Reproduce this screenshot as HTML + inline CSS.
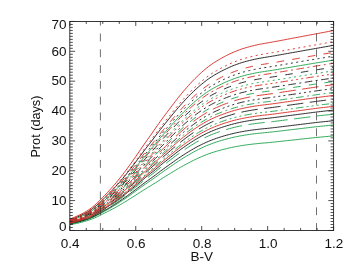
<!DOCTYPE html>
<html><head><meta charset="utf-8"><title>Prot vs B-V</title>
<style>
html,body{margin:0;padding:0;background:#fff;}
body{width:354px;height:275px;overflow:hidden;font-family:"Liberation Sans",sans-serif;}
svg{display:block;will-change:transform;}
text{font-family:"Liberation Sans",sans-serif;font-size:13.5px;fill:#111;}
</style></head><body>
<svg width="354" height="275" viewBox="0 0 354 275">
<rect width="354" height="275" fill="#fff"/>
<defs><clipPath id="c"><rect x="69.8" y="21.45" width="263.80" height="209.00"/></clipPath></defs>
<g clip-path="url(#c)" fill="none" stroke-width="0.95" stroke-linejoin="round">
<path d="M69.80,219.90 L71.45,219.28 L73.10,218.65 L74.75,218.02 L76.40,217.36 L78.04,216.68 L79.69,215.97 L81.34,215.22 L82.99,214.43 L84.64,213.58 L86.29,212.68 L87.94,211.71 L89.58,210.68 L91.23,209.57 L92.88,208.38 L94.53,207.10 L96.18,205.73 L97.83,204.28 L99.48,202.78 L101.13,201.23 L102.77,199.66 L104.42,198.07 L106.07,196.47 L107.72,194.85 L109.37,193.20 L111.02,191.52 L112.67,189.81 L114.32,188.05 L115.97,186.26 L117.61,184.43 L119.26,182.56 L120.91,180.64 L122.56,178.69 L124.21,176.70 L125.86,174.68 L127.51,172.62 L129.15,170.53 L130.80,168.42 L132.45,166.28 L134.10,164.11 L135.75,161.93 L137.40,159.73 L139.05,157.52 L140.70,155.32 L142.34,153.12 L143.99,150.94 L145.64,148.78 L147.29,146.63 L148.94,144.49 L150.59,142.36 L152.24,140.21 L153.89,138.05 L155.53,135.89 L157.18,133.71 L158.83,131.55 L160.48,129.42 L162.13,127.33 L163.78,125.27 L165.43,123.23 L167.08,121.20 L168.72,119.18 L170.37,117.16 L172.02,115.15 L173.67,113.14 L175.32,111.15 L176.97,109.18 L178.62,107.25 L180.27,105.35 L181.91,103.49 L183.56,101.66 L185.21,99.87 L186.86,98.12 L188.51,96.40 L190.16,94.73 L191.81,93.09 L193.46,91.50 L195.10,89.95 L196.75,88.43 L198.40,86.96 L200.05,85.53 L201.70,84.15 L203.35,82.80 L205.00,81.51 L206.65,80.26 L208.29,79.06 L209.94,77.92 L211.59,76.83 L213.24,75.79 L214.89,74.79 L216.54,73.84 L218.19,72.91 L219.84,72.02 L221.48,71.15 L223.13,70.31 L224.78,69.49 L226.43,68.70 L228.08,67.93 L229.73,67.18 L231.38,66.47 L233.03,65.78 L234.67,65.13 L236.32,64.50 L237.97,63.91 L239.62,63.34 L241.27,62.81 L242.92,62.30 L244.57,61.81 L246.22,61.35 L247.87,60.92 L249.51,60.50 L251.16,60.10 L252.81,59.71 L254.46,59.34 L256.11,58.99 L257.76,58.66 L259.41,58.34 L261.05,58.04 L262.70,57.76 L264.35,57.48 L266.00,57.22 L267.65,56.95 L269.30,56.68 L270.95,56.41 L272.60,56.13 L274.25,55.86 L275.89,55.57 L277.54,55.28 L279.19,54.99 L280.84,54.69 L282.49,54.39 L284.14,54.10 L285.79,53.80 L287.44,53.50 L289.08,53.21 L290.73,52.91 L292.38,52.62 L294.03,52.33 L295.68,52.04 L297.33,51.75 L298.98,51.45 L300.62,51.16 L302.27,50.87 L303.92,50.57 L305.57,50.27 L307.22,49.98 L308.87,49.68 L310.52,49.39 L312.17,49.10 L313.81,48.81 L315.46,48.52 L317.11,48.22 L318.76,47.94 L320.41,47.65 L322.06,47.36 L323.71,47.07 L325.36,46.78 L327.00,46.49 L328.65,46.20 L330.30,45.91 L331.95,45.62 L333.60,45.34" stroke="#222222"/>
<path d="M69.80,220.69 L71.45,220.11 L73.10,219.54 L74.75,218.95 L76.40,218.34 L78.04,217.71 L79.69,217.05 L81.34,216.36 L82.99,215.62 L84.64,214.84 L86.29,214.01 L87.94,213.11 L89.58,212.16 L91.23,211.13 L92.88,210.03 L94.53,208.84 L96.18,207.58 L97.83,206.24 L99.48,204.85 L101.13,203.41 L102.77,201.96 L104.42,200.50 L106.07,199.02 L107.72,197.53 L109.37,196.02 L111.02,194.47 L112.67,192.89 L114.32,191.28 L115.97,189.63 L117.61,187.95 L119.26,186.23 L120.91,184.47 L122.56,182.68 L124.21,180.85 L125.86,179.00 L127.51,177.11 L129.15,175.20 L130.80,173.26 L132.45,171.30 L134.10,169.31 L135.75,167.32 L137.40,165.31 L139.05,163.29 L140.70,161.28 L142.34,159.27 L143.99,157.28 L145.64,155.31 L147.29,153.36 L148.94,151.41 L150.59,149.46 L152.24,147.51 L153.89,145.55 L155.53,143.59 L157.18,141.59 L158.83,139.60 L160.48,137.64 L162.13,135.72 L163.78,133.83 L165.43,131.95 L167.08,130.09 L168.72,128.24 L170.37,126.38 L172.02,124.53 L173.67,122.68 L175.32,120.86 L176.97,119.05 L178.62,117.28 L180.27,115.53 L181.91,113.82 L183.56,112.14 L185.21,110.49 L186.86,108.88 L188.51,107.30 L190.16,105.76 L191.81,104.26 L193.46,102.79 L195.10,101.36 L196.75,99.97 L198.40,98.61 L200.05,97.30 L201.70,96.02 L203.35,94.78 L205.00,93.59 L206.65,92.44 L208.29,91.34 L209.94,90.28 L211.59,89.28 L213.24,88.32 L214.89,87.40 L216.54,86.52 L218.19,85.67 L219.84,84.84 L221.48,84.05 L223.13,83.27 L224.78,82.52 L226.43,81.79 L228.08,81.09 L229.73,80.40 L231.38,79.75 L233.03,79.11 L234.67,78.51 L236.32,77.94 L237.97,77.39 L239.62,76.87 L241.27,76.38 L242.92,75.91 L244.57,75.47 L246.22,75.04 L247.87,74.64 L249.51,74.26 L251.16,73.89 L252.81,73.54 L254.46,73.20 L256.11,72.87 L257.76,72.57 L259.41,72.27 L261.05,72.00 L262.70,71.74 L264.35,71.49 L266.00,71.24 L267.65,71.00 L269.30,70.74 L270.95,70.49 L272.60,70.23 L274.25,69.96 L275.89,69.70 L277.54,69.42 L279.19,69.15 L280.84,68.87 L282.49,68.59 L284.14,68.31 L285.79,68.03 L287.44,67.75 L289.08,67.47 L290.73,67.19 L292.38,66.92 L294.03,66.64 L295.68,66.37 L297.33,66.09 L298.98,65.82 L300.62,65.54 L302.27,65.26 L303.92,64.99 L305.57,64.71 L307.22,64.43 L308.87,64.15 L310.52,63.87 L312.17,63.60 L313.81,63.32 L315.46,63.05 L317.11,62.77 L318.76,62.51 L320.41,62.24 L322.06,61.98 L323.71,61.71 L325.36,61.44 L327.00,61.18 L328.65,60.91 L330.30,60.64 L331.95,60.38 L333.60,60.12" stroke="#25a552"/>
<path d="M69.80,219.11 L71.45,218.45 L73.10,217.78 L74.75,217.09 L76.40,216.39 L78.04,215.66 L79.69,214.89 L81.34,214.09 L82.99,213.23 L84.64,212.33 L86.29,211.36 L87.94,210.32 L89.58,209.21 L91.23,208.01 L92.88,206.73 L94.53,205.36 L96.18,203.89 L97.83,202.34 L99.48,200.72 L101.13,199.05 L102.77,197.36 L104.42,195.65 L106.07,193.93 L107.72,192.18 L109.37,190.40 L111.02,188.58 L112.67,186.73 L114.32,184.83 L115.97,182.90 L117.61,180.91 L119.26,178.89 L120.91,176.82 L122.56,174.71 L124.21,172.55 L125.86,170.36 L127.51,168.13 L129.15,165.87 L130.80,163.58 L132.45,161.25 L134.10,158.91 L135.75,156.54 L137.40,154.15 L139.05,151.75 L140.70,149.35 L142.34,146.96 L143.99,144.58 L145.64,142.23 L147.29,139.89 L148.94,137.56 L150.59,135.23 L152.24,132.89 L153.89,130.53 L155.53,128.17 L157.18,125.81 L158.83,123.48 L160.48,121.17 L162.13,118.91 L163.78,116.68 L165.43,114.47 L167.08,112.28 L168.72,110.10 L170.37,107.91 L172.02,105.73 L173.67,103.56 L175.32,101.41 L176.97,99.28 L178.62,97.19 L180.27,95.14 L181.91,93.12 L183.56,91.14 L185.21,89.21 L186.86,87.31 L188.51,85.46 L190.16,83.65 L191.81,81.89 L193.46,80.17 L195.10,78.49 L196.75,76.86 L198.40,75.27 L200.05,73.73 L201.70,72.23 L203.35,70.78 L205.00,69.39 L206.65,68.04 L208.29,66.75 L209.94,65.51 L211.59,64.34 L213.24,63.22 L214.89,62.15 L216.54,61.11 L218.19,60.12 L219.84,59.15 L221.48,58.21 L223.13,57.30 L224.78,56.42 L226.43,55.56 L228.08,54.73 L229.73,53.93 L231.38,53.15 L233.03,52.41 L234.67,51.70 L236.32,51.02 L237.97,50.38 L239.62,49.77 L241.27,49.19 L242.92,48.64 L244.57,48.12 L246.22,47.62 L247.87,47.15 L249.51,46.70 L251.16,46.26 L252.81,45.85 L254.46,45.45 L256.11,45.07 L257.76,44.71 L259.41,44.36 L261.05,44.04 L262.70,43.73 L264.35,43.44 L266.00,43.15 L267.65,42.86 L269.30,42.58 L270.95,42.29 L272.60,42.00 L274.25,41.70 L275.89,41.40 L277.54,41.10 L279.19,40.79 L280.84,40.47 L282.49,40.16 L284.14,39.84 L285.79,39.53 L287.44,39.22 L289.08,38.90 L290.73,38.59 L292.38,38.28 L294.03,37.98 L295.68,37.67 L297.33,37.36 L298.98,37.05 L300.62,36.74 L302.27,36.43 L303.92,36.12 L305.57,35.81 L307.22,35.50 L308.87,35.19 L310.52,34.88 L312.17,34.57 L313.81,34.26 L315.46,33.95 L317.11,33.65 L318.76,33.34 L320.41,33.02 L322.06,32.71 L323.71,32.40 L325.36,32.09 L327.00,31.77 L328.65,31.46 L330.30,31.15 L331.95,30.84 L333.60,30.53" stroke="#d8302a"/>
<path d="M69.80,220.47 L71.45,219.89 L73.10,219.30 L74.75,218.69 L76.40,218.07 L78.04,217.43 L79.69,216.76 L81.34,216.05 L82.99,215.30 L84.64,214.50 L86.29,213.65 L87.94,212.73 L89.58,211.75 L91.23,210.70 L92.88,209.58 L94.53,208.37 L96.18,207.07 L97.83,205.71 L99.48,204.28 L101.13,202.82 L102.77,201.33 L104.42,199.84 L106.07,198.33 L107.72,196.80 L109.37,195.25 L111.02,193.67 L112.67,192.05 L114.32,190.40 L115.97,188.72 L117.61,186.99 L119.26,185.23 L120.91,183.43 L122.56,181.59 L124.21,179.73 L125.86,177.82 L127.51,175.89 L129.15,173.93 L130.80,171.94 L132.45,169.93 L134.10,167.90 L135.75,165.85 L137.40,163.79 L139.05,161.72 L140.70,159.66 L142.34,157.60 L143.99,155.56 L145.64,153.53 L147.29,151.53 L148.94,149.53 L150.59,147.53 L152.24,145.53 L153.89,143.52 L155.53,141.50 L157.18,139.45 L158.83,137.42 L160.48,135.41 L162.13,133.44 L163.78,131.50 L165.43,129.58 L167.08,127.68 L168.72,125.78 L170.37,123.88 L172.02,121.98 L173.67,120.09 L175.32,118.22 L176.97,116.37 L178.62,114.55 L180.27,112.77 L181.91,111.01 L183.56,109.29 L185.21,107.61 L186.86,105.96 L188.51,104.34 L190.16,102.77 L191.81,101.23 L193.46,99.73 L195.10,98.26 L196.75,96.84 L198.40,95.45 L200.05,94.10 L201.70,92.80 L203.35,91.53 L205.00,90.31 L206.65,89.13 L208.29,88.00 L209.94,86.93 L211.59,85.90 L213.24,84.92 L214.89,83.98 L216.54,83.07 L218.19,82.20 L219.84,81.36 L221.48,80.54 L223.13,79.75 L224.78,78.98 L226.43,78.23 L228.08,77.51 L229.73,76.81 L231.38,76.14 L233.03,75.49 L234.67,74.88 L236.32,74.29 L237.97,73.73 L239.62,73.20 L241.27,72.69 L242.92,72.21 L244.57,71.76 L246.22,71.33 L247.87,70.91 L249.51,70.52 L251.16,70.14 L252.81,69.78 L254.46,69.43 L256.11,69.10 L257.76,68.79 L259.41,68.49 L261.05,68.21 L262.70,67.94 L264.35,67.68 L266.00,67.43 L267.65,67.19 L269.30,66.93 L270.95,66.66 L272.60,66.40 L274.25,66.13 L275.89,65.86 L277.54,65.58 L279.19,65.30 L280.84,65.02 L282.49,64.73 L284.14,64.45 L285.79,64.16 L287.44,63.88 L289.08,63.59 L290.73,63.31 L292.38,63.03 L294.03,62.75 L295.68,62.47 L297.33,62.20 L298.98,61.92 L300.62,61.63 L302.27,61.35 L303.92,61.07 L305.57,60.78 L307.22,60.50 L308.87,60.22 L310.52,59.94 L312.17,59.66 L313.81,59.38 L315.46,59.10 L317.11,58.82 L318.76,58.55 L320.41,58.28 L322.06,58.01 L323.71,57.73 L325.36,57.46 L327.00,57.19 L328.65,56.91 L330.30,56.64 L331.95,56.37 L333.60,56.10" stroke="#222222" stroke-dasharray="2.0 3.4"/>
<path d="M69.80,221.27 L71.45,220.73 L73.10,220.18 L74.75,219.63 L76.40,219.06 L78.04,218.46 L79.69,217.84 L81.34,217.19 L82.99,216.50 L84.64,215.77 L86.29,214.98 L87.94,214.14 L89.58,213.24 L91.23,212.27 L92.88,211.23 L94.53,210.12 L96.18,208.93 L97.83,207.67 L99.48,206.36 L101.13,205.01 L102.77,203.64 L104.42,202.27 L106.07,200.89 L107.72,199.49 L109.37,198.07 L111.02,196.63 L112.67,195.15 L114.32,193.64 L115.97,192.10 L117.61,190.52 L119.26,188.91 L120.91,187.27 L122.56,185.59 L124.21,183.89 L125.86,182.15 L127.51,180.39 L129.15,178.60 L130.80,176.79 L132.45,174.96 L134.10,173.11 L135.75,171.24 L137.40,169.37 L139.05,167.49 L140.70,165.62 L142.34,163.75 L143.99,161.90 L145.64,160.07 L147.29,158.25 L148.94,156.44 L150.59,154.64 L152.24,152.82 L153.89,151.00 L155.53,149.18 L157.18,147.31 L158.83,145.45 L160.48,143.62 L162.13,141.82 L163.78,140.05 L165.43,138.30 L167.08,136.56 L168.72,134.82 L170.37,133.08 L172.02,131.35 L173.67,129.62 L175.32,127.91 L176.97,126.23 L178.62,124.56 L180.27,122.93 L181.91,121.33 L183.56,119.76 L185.21,118.22 L186.86,116.71 L188.51,115.23 L190.16,113.79 L191.81,112.38 L193.46,111.00 L195.10,109.66 L196.75,108.36 L198.40,107.09 L200.05,105.85 L201.70,104.66 L203.35,103.50 L205.00,102.38 L206.65,101.30 L208.29,100.27 L209.94,99.28 L211.59,98.34 L213.24,97.44 L214.89,96.57 L216.54,95.75 L218.19,94.94 L219.84,94.17 L221.48,93.43 L223.13,92.70 L224.78,92.00 L226.43,91.32 L228.08,90.66 L229.73,90.02 L231.38,89.40 L233.03,88.81 L234.67,88.25 L236.32,87.71 L237.97,87.20 L239.62,86.71 L241.27,86.25 L242.92,85.81 L244.57,85.40 L246.22,85.00 L247.87,84.63 L249.51,84.27 L251.16,83.92 L252.81,83.59 L254.46,83.27 L256.11,82.97 L257.76,82.68 L259.41,82.41 L261.05,82.15 L262.70,81.91 L264.35,81.67 L266.00,81.45 L267.65,81.22 L269.30,80.97 L270.95,80.73 L272.60,80.48 L274.25,80.23 L275.89,79.97 L277.54,79.71 L279.19,79.45 L280.84,79.19 L282.49,78.92 L284.14,78.65 L285.79,78.38 L287.44,78.12 L289.08,77.85 L290.73,77.59 L292.38,77.32 L294.03,77.06 L295.68,76.80 L297.33,76.54 L298.98,76.28 L300.62,76.01 L302.27,75.75 L303.92,75.48 L305.57,75.21 L307.22,74.95 L308.87,74.68 L310.52,74.42 L312.17,74.16 L313.81,73.89 L315.46,73.63 L317.11,73.37 L318.76,73.12 L320.41,72.87 L322.06,72.62 L323.71,72.37 L325.36,72.12 L327.00,71.87 L328.65,71.62 L330.30,71.37 L331.95,71.13 L333.60,70.88" stroke="#25a552" stroke-dasharray="2.0 3.4"/>
<path d="M69.80,219.70 L71.45,219.07 L73.10,218.44 L74.75,217.79 L76.40,217.12 L78.04,216.43 L79.69,215.70 L81.34,214.94 L82.99,214.13 L84.64,213.27 L86.29,212.35 L87.94,211.37 L89.58,210.31 L91.23,209.18 L92.88,207.97 L94.53,206.67 L96.18,205.27 L97.83,203.80 L99.48,202.27 L101.13,200.69 L102.77,199.09 L104.42,197.47 L106.07,195.84 L107.72,194.19 L109.37,192.51 L111.02,190.79 L112.67,189.04 L114.32,187.25 L115.97,185.43 L117.61,183.56 L119.26,181.65 L120.91,179.69 L122.56,177.70 L124.21,175.67 L125.86,173.61 L127.51,171.51 L129.15,169.38 L130.80,167.22 L132.45,165.03 L134.10,162.82 L135.75,160.59 L137.40,158.35 L139.05,156.09 L140.70,153.84 L142.34,151.59 L143.99,149.36 L145.64,147.15 L147.29,144.96 L148.94,142.78 L150.59,140.59 L152.24,138.40 L153.89,136.19 L155.53,133.98 L157.18,131.76 L158.83,129.55 L160.48,127.38 L162.13,125.24 L163.78,123.14 L165.43,121.06 L167.08,118.99 L168.72,116.93 L170.37,114.87 L172.02,112.81 L173.67,110.76 L175.32,108.73 L176.97,106.73 L178.62,104.76 L180.27,102.82 L181.91,100.92 L183.56,99.05 L185.21,97.23 L186.86,95.44 L188.51,93.69 L190.16,91.98 L191.81,90.32 L193.46,88.69 L195.10,87.11 L196.75,85.56 L198.40,84.06 L200.05,82.61 L201.70,81.19 L203.35,79.83 L205.00,78.50 L206.65,77.23 L208.29,76.01 L209.94,74.84 L211.59,73.73 L213.24,72.67 L214.89,71.66 L216.54,70.68 L218.19,69.74 L219.84,68.83 L221.48,67.94 L223.13,67.08 L224.78,66.25 L226.43,65.44 L228.08,64.66 L229.73,63.90 L231.38,63.17 L233.03,62.47 L234.67,61.80 L236.32,61.16 L237.97,60.56 L239.62,59.98 L241.27,59.43 L242.92,58.91 L244.57,58.42 L246.22,57.95 L247.87,57.50 L249.51,57.08 L251.16,56.67 L252.81,56.28 L254.46,55.90 L256.11,55.54 L257.76,55.20 L259.41,54.88 L261.05,54.57 L262.70,54.28 L264.35,54.00 L266.00,53.73 L267.65,53.46 L269.30,53.19 L270.95,52.91 L272.60,52.63 L274.25,52.35 L275.89,52.06 L277.54,51.77 L279.19,51.47 L280.84,51.17 L282.49,50.87 L284.14,50.56 L285.79,50.26 L287.44,49.96 L289.08,49.66 L290.73,49.36 L292.38,49.07 L294.03,48.77 L295.68,48.47 L297.33,48.18 L298.98,47.88 L300.62,47.59 L302.27,47.29 L303.92,46.99 L305.57,46.69 L307.22,46.39 L308.87,46.09 L310.52,45.79 L312.17,45.50 L313.81,45.20 L315.46,44.90 L317.11,44.61 L318.76,44.32 L320.41,44.02 L322.06,43.73 L323.71,43.43 L325.36,43.14 L327.00,42.84 L328.65,42.54 L330.30,42.25 L331.95,41.96 L333.60,41.66" stroke="#d8302a" stroke-dasharray="2.0 3.4"/>
<path d="M69.80,221.07 L71.45,220.51 L73.10,219.96 L74.75,219.39 L76.40,218.81 L78.04,218.20 L79.69,217.57 L81.34,216.90 L82.99,216.20 L84.64,215.45 L86.29,214.64 L87.94,213.79 L89.58,212.86 L91.23,211.88 L92.88,210.82 L94.53,209.68 L96.18,208.46 L97.83,207.18 L99.48,205.84 L101.13,204.46 L102.77,203.06 L104.42,201.66 L106.07,200.25 L107.72,198.82 L109.37,197.36 L111.02,195.88 L112.67,194.37 L114.32,192.82 L115.97,191.24 L117.61,189.63 L119.26,187.98 L120.91,186.30 L122.56,184.59 L124.21,182.84 L125.86,181.06 L127.51,179.26 L129.15,177.43 L130.80,175.57 L132.45,173.69 L134.10,171.80 L135.75,169.89 L137.40,167.97 L139.05,166.04 L140.70,164.12 L142.34,162.20 L143.99,160.30 L145.64,158.42 L147.29,156.56 L148.94,154.70 L150.59,152.85 L152.24,150.99 L153.89,149.12 L155.53,147.25 L157.18,145.33 L158.83,143.43 L160.48,141.56 L162.13,139.72 L163.78,137.90 L165.43,136.11 L167.08,134.32 L168.72,132.55 L170.37,130.77 L172.02,128.99 L173.67,127.23 L175.32,125.48 L176.97,123.75 L178.62,122.05 L180.27,120.38 L181.91,118.74 L183.56,117.13 L185.21,115.55 L186.86,114.01 L188.51,112.49 L190.16,111.02 L191.81,109.58 L193.46,108.17 L195.10,106.80 L196.75,105.46 L198.40,104.16 L200.05,102.90 L201.70,101.68 L203.35,100.49 L205.00,99.35 L206.65,98.24 L208.29,97.18 L209.94,96.17 L211.59,95.21 L213.24,94.29 L214.89,93.41 L216.54,92.56 L218.19,91.74 L219.84,90.95 L221.48,90.19 L223.13,89.45 L224.78,88.73 L226.43,88.03 L228.08,87.35 L229.73,86.70 L231.38,86.07 L233.03,85.46 L234.67,84.89 L236.32,84.34 L237.97,83.81 L239.62,83.32 L241.27,82.84 L242.92,82.40 L244.57,81.97 L246.22,81.57 L247.87,81.18 L249.51,80.81 L251.16,80.46 L252.81,80.12 L254.46,79.80 L256.11,79.49 L257.76,79.19 L259.41,78.91 L261.05,78.65 L262.70,78.40 L264.35,78.16 L266.00,77.92 L267.65,77.69 L269.30,77.44 L270.95,77.19 L272.60,76.94 L274.25,76.69 L275.89,76.43 L277.54,76.16 L279.19,75.89 L280.84,75.62 L282.49,75.35 L284.14,75.08 L285.79,74.81 L287.44,74.54 L289.08,74.27 L290.73,74.00 L292.38,73.73 L294.03,73.46 L295.68,73.20 L297.33,72.93 L298.98,72.66 L300.62,72.40 L302.27,72.13 L303.92,71.86 L305.57,71.59 L307.22,71.31 L308.87,71.04 L310.52,70.78 L312.17,70.51 L313.81,70.24 L315.46,69.98 L317.11,69.71 L318.76,69.46 L320.41,69.20 L322.06,68.95 L323.71,68.69 L325.36,68.43 L327.00,68.18 L328.65,67.92 L330.30,67.67 L331.95,67.41 L333.60,67.16" stroke="#222222" stroke-dasharray="7.6 8.2"/>
<path d="M69.80,221.84 L71.45,221.33 L73.10,220.82 L74.75,220.30 L76.40,219.76 L78.04,219.21 L79.69,218.63 L81.34,218.02 L82.99,217.37 L84.64,216.68 L86.29,215.94 L87.94,215.15 L89.58,214.31 L91.23,213.40 L92.88,212.43 L94.53,211.39 L96.18,210.27 L97.83,209.09 L99.48,207.86 L101.13,206.60 L102.77,205.31 L104.42,204.03 L106.07,202.74 L107.72,201.44 L109.37,200.11 L111.02,198.76 L112.67,197.38 L114.32,195.97 L115.97,194.53 L117.61,193.06 L119.26,191.56 L120.91,190.03 L122.56,188.47 L124.21,186.88 L125.86,185.27 L127.51,183.63 L129.15,181.96 L130.80,180.28 L132.45,178.57 L134.10,176.85 L135.75,175.12 L137.40,173.38 L139.05,171.64 L140.70,169.90 L142.34,168.17 L143.99,166.45 L145.64,164.76 L147.29,163.08 L148.94,161.40 L150.59,159.73 L152.24,158.06 L153.89,156.37 L155.53,154.69 L157.18,152.95 L158.83,151.22 L160.48,149.51 L162.13,147.83 L163.78,146.18 L165.43,144.54 L167.08,142.92 L168.72,141.30 L170.37,139.68 L172.02,138.07 L173.67,136.46 L175.32,134.87 L176.97,133.29 L178.62,131.74 L180.27,130.22 L181.91,128.73 L183.56,127.26 L185.21,125.83 L186.86,124.42 L188.51,123.04 L190.16,121.69 L191.81,120.38 L193.46,119.09 L195.10,117.84 L196.75,116.62 L198.40,115.44 L200.05,114.28 L201.70,113.16 L203.35,112.08 L205.00,111.04 L206.65,110.03 L208.29,109.06 L209.94,108.14 L211.59,107.26 L213.24,106.42 L214.89,105.61 L216.54,104.83 L218.19,104.08 L219.84,103.37 L221.48,102.67 L223.13,102.00 L224.78,101.34 L226.43,100.70 L228.08,100.09 L229.73,99.49 L231.38,98.92 L233.03,98.37 L234.67,97.84 L236.32,97.34 L237.97,96.86 L239.62,96.41 L241.27,95.98 L242.92,95.57 L244.57,95.18 L246.22,94.82 L247.87,94.46 L249.51,94.13 L251.16,93.81 L252.81,93.50 L254.46,93.20 L256.11,92.92 L257.76,92.65 L259.41,92.40 L261.05,92.16 L262.70,91.93 L264.35,91.71 L266.00,91.50 L267.65,91.29 L269.30,91.05 L270.95,90.82 L272.60,90.58 L274.25,90.34 L275.89,90.10 L277.54,89.85 L279.19,89.60 L280.84,89.35 L282.49,89.10 L284.14,88.84 L285.79,88.59 L287.44,88.34 L289.08,88.08 L290.73,87.83 L292.38,87.58 L294.03,87.33 L295.68,87.08 L297.33,86.83 L298.98,86.58 L300.62,86.33 L302.27,86.08 L303.92,85.83 L305.57,85.57 L307.22,85.32 L308.87,85.07 L310.52,84.82 L312.17,84.57 L313.81,84.32 L315.46,84.07 L317.11,83.82 L318.76,83.59 L320.41,83.35 L322.06,83.12 L323.71,82.89 L325.36,82.65 L327.00,82.42 L328.65,82.19 L330.30,81.96 L331.95,81.72 L333.60,81.49" stroke="#25a552" stroke-dasharray="7.6 8.2"/>
<path d="M69.80,220.27 L71.45,219.68 L73.10,219.07 L74.75,218.46 L76.40,217.82 L78.04,217.17 L79.69,216.48 L81.34,215.76 L82.99,214.99 L84.64,214.18 L86.29,213.31 L87.94,212.38 L89.58,211.38 L91.23,210.31 L92.88,209.16 L94.53,207.93 L96.18,206.61 L97.83,205.21 L99.48,203.76 L101.13,202.27 L102.77,200.75 L104.42,199.22 L106.07,197.68 L107.72,196.12 L109.37,194.54 L111.02,192.92 L112.67,191.27 L114.32,189.58 L115.97,187.86 L117.61,186.10 L119.26,184.30 L120.91,182.46 L122.56,180.58 L124.21,178.67 L125.86,176.73 L127.51,174.75 L129.15,172.75 L130.80,170.71 L132.45,168.66 L134.10,166.58 L135.75,164.48 L137.40,162.38 L139.05,160.26 L140.70,158.15 L142.34,156.04 L143.99,153.95 L145.64,151.88 L147.29,149.82 L148.94,147.78 L150.59,145.73 L152.24,143.68 L153.89,141.61 L155.53,139.55 L157.18,137.45 L158.83,135.38 L160.48,133.33 L162.13,131.31 L163.78,129.33 L165.43,127.37 L167.08,125.43 L168.72,123.48 L170.37,121.54 L172.02,119.60 L173.67,117.67 L175.32,115.76 L176.97,113.87 L178.62,112.01 L180.27,110.19 L181.91,108.39 L183.56,106.64 L185.21,104.92 L186.86,103.23 L188.51,101.58 L190.16,99.97 L191.81,98.40 L193.46,96.86 L195.10,95.37 L196.75,93.91 L198.40,92.50 L200.05,91.12 L201.70,89.79 L203.35,88.49 L205.00,87.25 L206.65,86.05 L208.29,84.89 L209.94,83.79 L211.59,82.74 L213.24,81.74 L214.89,80.78 L216.54,79.86 L218.19,78.97 L219.84,78.11 L221.48,77.27 L223.13,76.46 L224.78,75.68 L226.43,74.91 L228.08,74.18 L229.73,73.46 L231.38,72.77 L233.03,72.11 L234.67,71.48 L236.32,70.88 L237.97,70.31 L239.62,69.77 L241.27,69.25 L242.92,68.76 L244.57,68.30 L246.22,67.86 L247.87,67.43 L249.51,67.03 L251.16,66.65 L252.81,66.28 L254.46,65.92 L256.11,65.58 L257.76,65.26 L259.41,64.96 L261.05,64.67 L262.70,64.40 L264.35,64.13 L266.00,63.88 L267.65,63.62 L269.30,63.36 L270.95,63.10 L272.60,62.83 L274.25,62.56 L275.89,62.28 L277.54,62.00 L279.19,61.71 L280.84,61.42 L282.49,61.13 L284.14,60.84 L285.79,60.55 L287.44,60.27 L289.08,59.98 L290.73,59.69 L292.38,59.41 L294.03,59.12 L295.68,58.84 L297.33,58.56 L298.98,58.27 L300.62,57.99 L302.27,57.70 L303.92,57.41 L305.57,57.13 L307.22,56.84 L308.87,56.55 L310.52,56.27 L312.17,55.98 L313.81,55.70 L315.46,55.41 L317.11,55.13 L318.76,54.85 L320.41,54.58 L322.06,54.30 L323.71,54.02 L325.36,53.74 L327.00,53.46 L328.65,53.18 L330.30,52.91 L331.95,52.63 L333.60,52.35" stroke="#d8302a" stroke-dasharray="7.6 8.2"/>
<path d="M69.80,221.65 L71.45,221.13 L73.10,220.61 L74.75,220.08 L76.40,219.53 L78.04,218.96 L79.69,218.37 L81.34,217.74 L82.99,217.08 L84.64,216.38 L86.29,215.63 L87.94,214.82 L89.58,213.96 L91.23,213.03 L92.88,212.04 L94.53,210.97 L96.18,209.83 L97.83,208.62 L99.48,207.37 L101.13,206.07 L102.77,204.76 L104.42,203.45 L106.07,202.13 L107.72,200.80 L109.37,199.44 L111.02,198.06 L112.67,196.64 L114.32,195.20 L115.97,193.73 L117.61,192.23 L119.26,190.69 L120.91,189.12 L122.56,187.52 L124.21,185.90 L125.86,184.24 L127.51,182.56 L129.15,180.86 L130.80,179.13 L132.45,177.38 L134.10,175.62 L135.75,173.84 L137.40,172.06 L139.05,170.28 L140.70,168.49 L142.34,166.72 L143.99,164.95 L145.64,163.21 L147.29,161.49 L148.94,159.77 L150.59,158.06 L152.24,156.34 L153.89,154.61 L155.53,152.88 L157.18,151.09 L158.83,149.32 L160.48,147.57 L162.13,145.85 L163.78,144.16 L165.43,142.49 L167.08,140.83 L168.72,139.17 L170.37,137.51 L172.02,135.86 L173.67,134.21 L175.32,132.58 L176.97,130.97 L178.62,129.38 L180.27,127.82 L181.91,126.29 L183.56,124.79 L185.21,123.33 L186.86,121.88 L188.51,120.47 L190.16,119.09 L191.81,117.75 L193.46,116.43 L195.10,115.15 L196.75,113.90 L198.40,112.69 L200.05,111.51 L201.70,110.37 L203.35,109.26 L205.00,108.19 L206.65,107.16 L208.29,106.17 L209.94,105.22 L211.59,104.32 L213.24,103.46 L214.89,102.64 L216.54,101.84 L218.19,101.08 L219.84,100.34 L221.48,99.63 L223.13,98.94 L224.78,98.27 L226.43,97.62 L228.08,96.98 L229.73,96.37 L231.38,95.79 L233.03,95.22 L234.67,94.68 L236.32,94.17 L237.97,93.68 L239.62,93.22 L241.27,92.78 L242.92,92.36 L244.57,91.96 L246.22,91.59 L247.87,91.23 L249.51,90.88 L251.16,90.55 L252.81,90.24 L254.46,89.94 L256.11,89.65 L257.76,89.37 L259.41,89.11 L261.05,88.87 L262.70,88.63 L264.35,88.41 L266.00,88.19 L267.65,87.97 L269.30,87.74 L270.95,87.50 L272.60,87.26 L274.25,87.02 L275.89,86.77 L277.54,86.52 L279.19,86.26 L280.84,86.01 L282.49,85.75 L284.14,85.49 L285.79,85.23 L287.44,84.97 L289.08,84.72 L290.73,84.46 L292.38,84.21 L294.03,83.95 L295.68,83.70 L297.33,83.45 L298.98,83.19 L300.62,82.94 L302.27,82.68 L303.92,82.42 L305.57,82.16 L307.22,81.91 L308.87,81.65 L310.52,81.39 L312.17,81.14 L313.81,80.89 L315.46,80.63 L317.11,80.38 L318.76,80.14 L320.41,79.90 L322.06,79.67 L323.71,79.43 L325.36,79.19 L327.00,78.95 L328.65,78.71 L330.30,78.47 L331.95,78.24 L333.60,78.00" stroke="#222222" stroke-dasharray="7.6 3.5 2.0 3.5"/>
<path d="M69.80,222.43 L71.45,221.96 L73.10,221.48 L74.75,221.00 L76.40,220.50 L78.04,219.98 L79.69,219.44 L81.34,218.87 L82.99,218.27 L84.64,217.63 L86.29,216.94 L87.94,216.21 L89.58,215.42 L91.23,214.58 L92.88,213.67 L94.53,212.70 L96.18,211.66 L97.83,210.56 L99.48,209.42 L101.13,208.24 L102.77,207.04 L104.42,205.86 L106.07,204.66 L107.72,203.45 L109.37,202.23 L111.02,200.97 L112.67,199.70 L114.32,198.39 L115.97,197.06 L117.61,195.71 L119.26,194.32 L120.91,192.90 L122.56,191.46 L124.21,189.99 L125.86,188.50 L127.51,186.99 L129.15,185.45 L130.80,183.89 L132.45,182.32 L134.10,180.74 L135.75,179.14 L137.40,177.54 L139.05,175.94 L140.70,174.34 L142.34,172.75 L143.99,171.17 L145.64,169.61 L147.29,168.07 L148.94,166.54 L150.59,165.00 L152.24,163.47 L153.89,161.93 L155.53,160.39 L157.18,158.77 L158.83,157.17 L160.48,155.59 L162.13,154.04 L163.78,152.51 L165.43,151.00 L167.08,149.50 L168.72,148.01 L170.37,146.51 L172.02,145.01 L173.67,143.53 L175.32,142.05 L176.97,140.60 L178.62,139.16 L180.27,137.76 L181.91,136.38 L183.56,135.02 L185.21,133.69 L186.86,132.39 L188.51,131.11 L190.16,129.86 L191.81,128.64 L193.46,127.45 L195.10,126.29 L196.75,125.16 L198.40,124.06 L200.05,123.00 L201.70,121.96 L203.35,120.96 L205.00,119.99 L206.65,119.05 L208.29,118.16 L209.94,117.30 L211.59,116.48 L213.24,115.70 L214.89,114.95 L216.54,114.23 L218.19,113.54 L219.84,112.87 L221.48,112.23 L223.13,111.60 L224.78,111.00 L226.43,110.41 L228.08,109.84 L229.73,109.29 L231.38,108.76 L233.03,108.25 L234.67,107.76 L236.32,107.30 L237.97,106.86 L239.62,106.44 L241.27,106.04 L242.92,105.66 L244.57,105.30 L246.22,104.96 L247.87,104.64 L249.51,104.33 L251.16,104.03 L252.81,103.74 L254.46,103.47 L256.11,103.21 L257.76,102.96 L259.41,102.72 L261.05,102.50 L262.70,102.29 L264.35,102.09 L266.00,101.89 L267.65,101.69 L269.30,101.48 L270.95,101.25 L272.60,101.03 L274.25,100.81 L275.89,100.58 L277.54,100.34 L279.19,100.11 L280.84,99.87 L282.49,99.63 L284.14,99.39 L285.79,99.15 L287.44,98.91 L289.08,98.67 L290.73,98.43 L292.38,98.19 L294.03,97.96 L295.68,97.72 L297.33,97.49 L298.98,97.25 L300.62,97.01 L302.27,96.77 L303.92,96.54 L305.57,96.30 L307.22,96.06 L308.87,95.82 L310.52,95.58 L312.17,95.34 L313.81,95.11 L315.46,94.87 L317.11,94.63 L318.76,94.42 L320.41,94.20 L322.06,93.99 L323.71,93.77 L325.36,93.56 L327.00,93.34 L328.65,93.12 L330.30,92.91 L331.95,92.69 L333.60,92.48" stroke="#25a552" stroke-dasharray="7.6 3.5 2.0 3.5"/>
<path d="M69.80,220.86 L71.45,220.29 L73.10,219.72 L74.75,219.14 L76.40,218.55 L78.04,217.93 L79.69,217.28 L81.34,216.60 L82.99,215.88 L84.64,215.11 L86.29,214.29 L87.94,213.41 L89.58,212.47 L91.23,211.46 L92.88,210.38 L94.53,209.22 L96.18,207.97 L97.83,206.66 L99.48,205.29 L101.13,203.88 L102.77,202.45 L104.42,201.02 L106.07,199.57 L107.72,198.11 L109.37,196.62 L111.02,195.10 L112.67,193.55 L114.32,191.97 L115.97,190.35 L117.61,188.70 L119.26,187.01 L120.91,185.29 L122.56,183.53 L124.21,181.74 L125.86,179.92 L127.51,178.07 L129.15,176.19 L130.80,174.29 L132.45,172.37 L134.10,170.42 L135.75,168.46 L137.40,166.50 L139.05,164.52 L140.70,162.55 L142.34,160.58 L143.99,158.63 L145.64,156.70 L147.29,154.79 L148.94,152.88 L150.59,150.98 L152.24,149.07 L153.89,147.15 L155.53,145.22 L157.18,143.26 L158.83,141.31 L160.48,139.39 L162.13,137.51 L163.78,135.65 L165.43,133.81 L167.08,131.98 L168.72,130.16 L170.37,128.34 L172.02,126.52 L173.67,124.72 L175.32,122.92 L176.97,121.15 L178.62,119.41 L180.27,117.70 L181.91,116.02 L183.56,114.37 L185.21,112.76 L186.86,111.17 L188.51,109.62 L190.16,108.11 L191.81,106.64 L193.46,105.20 L195.10,103.79 L196.75,102.42 L198.40,101.10 L200.05,99.80 L201.70,98.55 L203.35,97.34 L205.00,96.16 L206.65,95.03 L208.29,93.95 L209.94,92.92 L211.59,91.93 L213.24,90.99 L214.89,90.09 L216.54,89.22 L218.19,88.38 L219.84,87.58 L221.48,86.79 L223.13,86.03 L224.78,85.30 L226.43,84.58 L228.08,83.89 L229.73,83.22 L231.38,82.57 L233.03,81.95 L234.67,81.36 L236.32,80.80 L237.97,80.26 L239.62,79.75 L241.27,79.27 L242.92,78.81 L244.57,78.37 L246.22,77.96 L247.87,77.57 L249.51,77.19 L251.16,76.83 L252.81,76.48 L254.46,76.15 L256.11,75.83 L257.76,75.53 L259.41,75.24 L261.05,74.97 L262.70,74.72 L264.35,74.47 L266.00,74.23 L267.65,73.99 L269.30,73.74 L270.95,73.49 L272.60,73.23 L274.25,72.97 L275.89,72.71 L277.54,72.44 L279.19,72.16 L280.84,71.89 L282.49,71.61 L284.14,71.33 L285.79,71.06 L287.44,70.78 L289.08,70.51 L290.73,70.23 L292.38,69.96 L294.03,69.69 L295.68,69.42 L297.33,69.15 L298.98,68.88 L300.62,68.61 L302.27,68.33 L303.92,68.06 L305.57,67.78 L307.22,67.51 L308.87,67.23 L310.52,66.96 L312.17,66.69 L313.81,66.42 L315.46,66.15 L317.11,65.87 L318.76,65.61 L320.41,65.35 L322.06,65.09 L323.71,64.83 L325.36,64.57 L327.00,64.31 L328.65,64.05 L330.30,63.78 L331.95,63.52 L333.60,63.26" stroke="#d8302a" stroke-dasharray="7.6 3.5 2.0 3.5"/>
<path d="M69.80,222.22 L71.45,221.73 L73.10,221.25 L74.75,220.75 L76.40,220.24 L78.04,219.71 L79.69,219.15 L81.34,218.57 L82.99,217.95 L84.64,217.29 L86.29,216.58 L87.94,215.83 L89.58,215.02 L91.23,214.16 L92.88,213.23 L94.53,212.23 L96.18,211.16 L97.83,210.03 L99.48,208.86 L101.13,207.65 L102.77,206.42 L104.42,205.20 L106.07,203.97 L107.72,202.73 L109.37,201.47 L111.02,200.18 L112.67,198.87 L114.32,197.52 L115.97,196.15 L117.61,194.76 L119.26,193.33 L120.91,191.87 L122.56,190.39 L124.21,188.88 L125.86,187.34 L127.51,185.78 L129.15,184.20 L130.80,182.60 L132.45,180.98 L134.10,179.34 L135.75,177.70 L137.40,176.05 L139.05,174.40 L140.70,172.75 L142.34,171.10 L143.99,169.48 L145.64,167.87 L147.29,166.28 L148.94,164.69 L150.59,163.11 L152.24,161.53 L153.89,159.94 L155.53,158.34 L157.18,156.68 L158.83,155.04 L160.48,153.41 L162.13,151.81 L163.78,150.24 L165.43,148.69 L167.08,147.14 L168.72,145.60 L170.37,144.06 L172.02,142.52 L173.67,140.99 L175.32,139.48 L176.97,137.98 L178.62,136.50 L180.27,135.06 L181.91,133.63 L183.56,132.24 L185.21,130.87 L186.86,129.53 L188.51,128.22 L190.16,126.93 L191.81,125.68 L193.46,124.46 L195.10,123.26 L196.75,122.10 L198.40,120.97 L200.05,119.87 L201.70,118.81 L203.35,117.77 L205.00,116.78 L206.65,115.82 L208.29,114.89 L209.94,114.01 L211.59,113.17 L213.24,112.37 L214.89,111.60 L216.54,110.86 L218.19,110.15 L219.84,109.46 L221.48,108.80 L223.13,108.16 L224.78,107.53 L226.43,106.93 L228.08,106.34 L229.73,105.77 L231.38,105.23 L233.03,104.70 L234.67,104.20 L236.32,103.73 L237.97,103.27 L239.62,102.84 L241.27,102.43 L242.92,102.04 L244.57,101.67 L246.22,101.32 L247.87,100.99 L249.51,100.67 L251.16,100.36 L252.81,100.07 L254.46,99.79 L256.11,99.52 L257.76,99.26 L259.41,99.02 L261.05,98.79 L262.70,98.58 L264.35,98.37 L266.00,98.16 L267.65,97.96 L269.30,97.74 L270.95,97.51 L272.60,97.28 L274.25,97.05 L275.89,96.82 L277.54,96.58 L279.19,96.34 L280.84,96.10 L282.49,95.85 L284.14,95.60 L285.79,95.36 L287.44,95.12 L289.08,94.87 L290.73,94.63 L292.38,94.39 L294.03,94.15 L295.68,93.91 L297.33,93.67 L298.98,93.42 L300.62,93.18 L302.27,92.94 L303.92,92.69 L305.57,92.45 L307.22,92.21 L308.87,91.96 L310.52,91.72 L312.17,91.48 L313.81,91.24 L315.46,90.99 L317.11,90.75 L318.76,90.53 L320.41,90.31 L322.06,90.09 L323.71,89.87 L325.36,89.65 L327.00,89.42 L328.65,89.20 L330.30,88.98 L331.95,88.76 L333.60,88.54" stroke="#222222" stroke-dasharray="7.6 3.1 2.0 3.1 2.0 3.1 2.0 3.1"/>
<path d="M69.80,223.02 L71.45,222.58 L73.10,222.14 L74.75,221.69 L76.40,221.23 L78.04,220.75 L79.69,220.25 L81.34,219.73 L82.99,219.17 L84.64,218.57 L86.29,217.94 L87.94,217.26 L89.58,216.53 L91.23,215.75 L92.88,214.91 L94.53,214.01 L96.18,213.04 L97.83,212.03 L99.48,210.97 L101.13,209.88 L102.77,208.77 L104.42,207.67 L106.07,206.57 L107.72,205.45 L109.37,204.32 L111.02,203.17 L112.67,201.99 L114.32,200.79 L115.97,199.57 L117.61,198.32 L119.26,197.04 L120.91,195.74 L122.56,194.42 L124.21,193.07 L125.86,191.70 L127.51,190.31 L129.15,188.90 L130.80,187.47 L132.45,186.03 L134.10,184.57 L135.75,183.11 L137.40,181.64 L139.05,180.18 L140.70,178.72 L142.34,177.26 L143.99,175.82 L145.64,174.40 L147.29,172.99 L148.94,171.59 L150.59,170.20 L152.24,168.80 L153.89,167.40 L155.53,166.00 L157.18,164.51 L158.83,163.04 L160.48,161.59 L162.13,160.16 L163.78,158.75 L165.43,157.36 L167.08,155.98 L168.72,154.61 L170.37,153.23 L172.02,151.85 L173.67,150.49 L175.32,149.13 L176.97,147.79 L178.62,146.47 L180.27,145.18 L181.91,143.91 L183.56,142.66 L185.21,141.44 L186.86,140.24 L188.51,139.06 L190.16,137.91 L191.81,136.79 L193.46,135.69 L195.10,134.62 L196.75,133.58 L198.40,132.56 L200.05,131.58 L201.70,130.62 L203.35,129.70 L205.00,128.80 L206.65,127.94 L208.29,127.11 L209.94,126.32 L211.59,125.57 L213.24,124.85 L214.89,124.16 L216.54,123.49 L218.19,122.85 L219.84,122.24 L221.48,121.65 L223.13,121.07 L224.78,120.51 L226.43,119.97 L228.08,119.45 L229.73,118.94 L231.38,118.45 L233.03,117.98 L234.67,117.53 L236.32,117.11 L237.97,116.70 L239.62,116.32 L241.27,115.95 L242.92,115.60 L244.57,115.27 L246.22,114.96 L247.87,114.66 L249.51,114.37 L251.16,114.10 L252.81,113.84 L254.46,113.58 L256.11,113.34 L257.76,113.11 L259.41,112.90 L261.05,112.69 L262.70,112.50 L264.35,112.31 L266.00,112.13 L267.65,111.95 L269.30,111.74 L270.95,111.54 L272.60,111.33 L274.25,111.11 L275.89,110.90 L277.54,110.68 L279.19,110.45 L280.84,110.23 L282.49,110.00 L284.14,109.78 L285.79,109.55 L287.44,109.33 L289.08,109.10 L290.73,108.88 L292.38,108.66 L294.03,108.43 L295.68,108.21 L297.33,107.99 L298.98,107.77 L300.62,107.54 L302.27,107.32 L303.92,107.09 L305.57,106.87 L307.22,106.64 L308.87,106.42 L310.52,106.19 L312.17,105.97 L313.81,105.75 L315.46,105.53 L317.11,105.30 L318.76,105.10 L320.41,104.91 L322.06,104.71 L323.71,104.51 L325.36,104.31 L327.00,104.11 L328.65,103.91 L330.30,103.71 L331.95,103.52 L333.60,103.32" stroke="#25a552" stroke-dasharray="7.6 3.1 2.0 3.1 2.0 3.1 2.0 3.1"/>
<path d="M69.80,221.43 L71.45,220.90 L73.10,220.36 L74.75,219.82 L76.40,219.26 L78.04,218.67 L79.69,218.06 L81.34,217.42 L82.99,216.75 L84.64,216.02 L86.29,215.25 L87.94,214.43 L89.58,213.54 L91.23,212.59 L92.88,211.57 L94.53,210.48 L96.18,209.31 L97.83,208.07 L99.48,206.78 L101.13,205.46 L102.77,204.11 L104.42,202.77 L106.07,201.41 L107.72,200.04 L109.37,198.65 L111.02,197.23 L112.67,195.78 L114.32,194.30 L115.97,192.78 L117.61,191.24 L119.26,189.66 L120.91,188.05 L122.56,186.41 L124.21,184.73 L125.86,183.03 L127.51,181.30 L129.15,179.55 L130.80,177.78 L132.45,175.98 L134.10,174.17 L135.75,172.34 L137.40,170.51 L139.05,168.67 L140.70,166.83 L142.34,165.00 L143.99,163.19 L145.64,161.39 L147.29,159.61 L148.94,157.85 L150.59,156.08 L152.24,154.30 L153.89,152.52 L155.53,150.74 L157.18,148.90 L158.83,147.08 L160.48,145.29 L162.13,143.52 L163.78,141.78 L165.43,140.06 L167.08,138.36 L168.72,136.65 L170.37,134.95 L172.02,133.25 L173.67,131.56 L175.32,129.88 L176.97,128.23 L178.62,126.60 L180.27,124.99 L181.91,123.42 L183.56,121.88 L185.21,120.37 L186.86,118.89 L188.51,117.44 L190.16,116.02 L191.81,114.64 L193.46,113.29 L195.10,111.98 L196.75,110.70 L198.40,109.45 L200.05,108.24 L201.70,107.06 L203.35,105.93 L205.00,104.83 L206.65,103.77 L208.29,102.75 L209.94,101.78 L211.59,100.86 L213.24,99.98 L214.89,99.13 L216.54,98.32 L218.19,97.53 L219.84,96.77 L221.48,96.04 L223.13,95.33 L224.78,94.64 L226.43,93.97 L228.08,93.32 L229.73,92.70 L231.38,92.09 L233.03,91.51 L234.67,90.96 L236.32,90.43 L237.97,89.93 L239.62,89.46 L241.27,89.00 L242.92,88.57 L244.57,88.17 L246.22,87.78 L247.87,87.41 L249.51,87.06 L251.16,86.72 L252.81,86.39 L254.46,86.08 L256.11,85.79 L257.76,85.50 L259.41,85.24 L261.05,84.98 L262.70,84.74 L264.35,84.51 L266.00,84.29 L267.65,84.07 L269.30,83.82 L270.95,83.58 L272.60,83.34 L274.25,83.09 L275.89,82.84 L277.54,82.58 L279.19,82.32 L280.84,82.06 L282.49,81.80 L284.14,81.53 L285.79,81.27 L287.44,81.01 L289.08,80.74 L290.73,80.48 L292.38,80.22 L294.03,79.97 L295.68,79.71 L297.33,79.45 L298.98,79.19 L300.62,78.93 L302.27,78.67 L303.92,78.41 L305.57,78.14 L307.22,77.88 L308.87,77.62 L310.52,77.36 L312.17,77.10 L313.81,76.84 L315.46,76.58 L317.11,76.32 L318.76,76.08 L320.41,75.84 L322.06,75.59 L323.71,75.35 L325.36,75.10 L327.00,74.86 L328.65,74.61 L330.30,74.37 L331.95,74.12 L333.60,73.88" stroke="#d8302a" stroke-dasharray="7.6 3.1 2.0 3.1 2.0 3.1 2.0 3.1"/>
<path d="M69.80,222.80 L71.45,222.35 L73.10,221.89 L74.75,221.43 L76.40,220.96 L78.04,220.46 L79.69,219.95 L81.34,219.40 L82.99,218.83 L84.64,218.22 L86.29,217.56 L87.94,216.86 L89.58,216.11 L91.23,215.31 L92.88,214.44 L94.53,213.51 L96.18,212.52 L97.83,211.47 L99.48,210.38 L101.13,209.26 L102.77,208.11 L104.42,206.99 L106.07,205.85 L107.72,204.70 L109.37,203.53 L111.02,202.34 L112.67,201.13 L114.32,199.89 L115.97,198.62 L117.61,197.33 L119.26,196.01 L120.91,194.67 L122.56,193.30 L124.21,191.91 L125.86,190.49 L127.51,189.05 L129.15,187.59 L130.80,186.12 L132.45,184.63 L134.10,183.12 L135.75,181.61 L137.40,180.10 L139.05,178.58 L140.70,177.06 L142.34,175.56 L143.99,174.07 L145.64,172.59 L147.29,171.14 L148.94,169.69 L150.59,168.24 L152.24,166.79 L153.89,165.33 L155.53,163.88 L157.18,162.35 L158.83,160.83 L160.48,159.33 L162.13,157.85 L163.78,156.40 L165.43,154.96 L167.08,153.54 L168.72,152.12 L170.37,150.69 L172.02,149.27 L173.67,147.86 L175.32,146.46 L176.97,145.08 L178.62,143.72 L180.27,142.38 L181.91,141.07 L183.56,139.78 L185.21,138.52 L186.86,137.28 L188.51,136.06 L190.16,134.87 L191.81,133.71 L193.46,132.58 L195.10,131.48 L196.75,130.40 L198.40,129.36 L200.05,128.34 L201.70,127.36 L203.35,126.40 L205.00,125.48 L206.65,124.59 L208.29,123.73 L209.94,122.92 L211.59,122.14 L213.24,121.40 L214.89,120.68 L216.54,120.00 L218.19,119.34 L219.84,118.71 L221.48,118.09 L223.13,117.50 L224.78,116.92 L226.43,116.36 L228.08,115.82 L229.73,115.30 L231.38,114.79 L233.03,114.31 L234.67,113.85 L236.32,113.41 L237.97,112.99 L239.62,112.59 L241.27,112.21 L242.92,111.85 L244.57,111.51 L246.22,111.19 L247.87,110.88 L249.51,110.58 L251.16,110.30 L252.81,110.03 L254.46,109.77 L256.11,109.52 L257.76,109.28 L259.41,109.06 L261.05,108.85 L262.70,108.65 L264.35,108.46 L266.00,108.27 L267.65,108.08 L269.30,107.87 L270.95,107.66 L272.60,107.44 L274.25,107.22 L275.89,107.00 L277.54,106.78 L279.19,106.55 L280.84,106.32 L282.49,106.09 L284.14,105.86 L285.79,105.63 L287.44,105.39 L289.08,105.17 L290.73,104.94 L292.38,104.71 L294.03,104.48 L295.68,104.25 L297.33,104.03 L298.98,103.80 L300.62,103.57 L302.27,103.34 L303.92,103.11 L305.57,102.88 L307.22,102.65 L308.87,102.42 L310.52,102.19 L312.17,101.96 L313.81,101.73 L315.46,101.50 L317.11,101.27 L318.76,101.07 L320.41,100.87 L322.06,100.66 L323.71,100.46 L325.36,100.25 L327.00,100.05 L328.65,99.84 L330.30,99.64 L331.95,99.43 L333.60,99.23" stroke="#222222" stroke-dasharray="16.5 6.5"/>
<path d="M69.80,223.61 L71.45,223.21 L73.10,222.81 L74.75,222.39 L76.40,221.97 L78.04,221.53 L79.69,221.07 L81.34,220.58 L82.99,220.07 L84.64,219.52 L86.29,218.94 L87.94,218.31 L89.58,217.64 L91.23,216.92 L92.88,216.15 L94.53,215.32 L96.18,214.43 L97.83,213.50 L99.48,212.52 L101.13,211.52 L102.77,210.50 L104.42,209.49 L106.07,208.49 L107.72,207.46 L109.37,206.43 L111.02,205.38 L112.67,204.30 L114.32,203.20 L115.97,202.09 L117.61,200.94 L119.26,199.78 L120.91,198.59 L122.56,197.38 L124.21,196.15 L125.86,194.90 L127.51,193.63 L129.15,192.35 L130.80,191.05 L132.45,189.74 L134.10,188.42 L135.75,187.08 L137.40,185.75 L139.05,184.42 L140.70,183.10 L142.34,181.78 L143.99,180.47 L145.64,179.19 L147.29,177.91 L148.94,176.65 L150.59,175.39 L152.24,174.13 L153.89,172.86 L155.53,171.59 L157.18,170.24 L158.83,168.89 L160.48,167.57 L162.13,166.27 L163.78,164.98 L165.43,163.71 L167.08,162.45 L168.72,161.20 L170.37,159.94 L172.02,158.68 L173.67,157.43 L175.32,156.19 L176.97,154.97 L178.62,153.77 L180.27,152.59 L181.91,151.43 L183.56,150.29 L185.21,149.17 L186.86,148.07 L188.51,146.99 L190.16,145.94 L191.81,144.91 L193.46,143.91 L195.10,142.93 L196.75,141.98 L198.40,141.05 L200.05,140.15 L201.70,139.27 L203.35,138.43 L205.00,137.61 L206.65,136.82 L208.29,136.06 L209.94,135.34 L211.59,134.64 L213.24,133.98 L214.89,133.35 L216.54,132.74 L218.19,132.15 L219.84,131.59 L221.48,131.05 L223.13,130.53 L224.78,130.02 L226.43,129.52 L228.08,129.04 L229.73,128.58 L231.38,128.13 L233.03,127.70 L234.67,127.29 L236.32,126.90 L237.97,126.53 L239.62,126.18 L241.27,125.85 L242.92,125.53 L244.57,125.23 L246.22,124.94 L247.87,124.67 L249.51,124.41 L251.16,124.16 L252.81,123.92 L254.46,123.69 L256.11,123.47 L257.76,123.26 L259.41,123.06 L261.05,122.87 L262.70,122.70 L264.35,122.53 L266.00,122.36 L267.65,122.19 L269.30,122.00 L270.95,121.81 L272.60,121.61 L274.25,121.41 L275.89,121.21 L277.54,121.00 L279.19,120.79 L280.84,120.58 L282.49,120.37 L284.14,120.16 L285.79,119.95 L287.44,119.74 L289.08,119.53 L290.73,119.32 L292.38,119.11 L294.03,118.90 L295.68,118.70 L297.33,118.49 L298.98,118.28 L300.62,118.07 L302.27,117.86 L303.92,117.65 L305.57,117.44 L307.22,117.23 L308.87,117.02 L310.52,116.81 L312.17,116.60 L313.81,116.39 L315.46,116.18 L317.11,115.97 L318.76,115.79 L320.41,115.61 L322.06,115.43 L323.71,115.25 L325.36,115.06 L327.00,114.88 L328.65,114.70 L330.30,114.52 L331.95,114.34 L333.60,114.16" stroke="#25a552" stroke-dasharray="16.5 6.5"/>
<path d="M69.80,222.01 L71.45,221.51 L73.10,221.01 L74.75,220.50 L76.40,219.98 L78.04,219.43 L79.69,218.86 L81.34,218.26 L82.99,217.63 L84.64,216.95 L86.29,216.23 L87.94,215.46 L89.58,214.63 L91.23,213.74 L92.88,212.79 L94.53,211.76 L96.18,210.67 L97.83,209.51 L99.48,208.31 L101.13,207.07 L102.77,205.81 L104.42,204.55 L106.07,203.29 L107.72,202.01 L109.37,200.72 L111.02,199.39 L112.67,198.04 L114.32,196.67 L115.97,195.26 L117.61,193.82 L119.26,192.35 L120.91,190.85 L122.56,189.33 L124.21,187.77 L125.86,186.19 L127.51,184.59 L129.15,182.96 L130.80,181.31 L132.45,179.65 L134.10,177.97 L135.75,176.27 L137.40,174.57 L139.05,172.87 L140.70,171.17 L142.34,169.48 L143.99,167.81 L145.64,166.15 L147.29,164.51 L148.94,162.87 L150.59,161.24 L152.24,159.61 L153.89,157.97 L155.53,156.32 L157.18,154.62 L158.83,152.92 L160.48,151.25 L162.13,149.61 L163.78,148.00 L165.43,146.40 L167.08,144.81 L168.72,143.23 L170.37,141.64 L172.02,140.06 L173.67,138.49 L175.32,136.93 L176.97,135.39 L178.62,133.87 L180.27,132.38 L181.91,130.92 L183.56,129.49 L185.21,128.09 L186.86,126.70 L188.51,125.35 L190.16,124.04 L191.81,122.75 L193.46,121.49 L195.10,120.27 L196.75,119.07 L198.40,117.91 L200.05,116.78 L201.70,115.69 L203.35,114.63 L205.00,113.60 L206.65,112.62 L208.29,111.67 L209.94,110.76 L211.59,109.90 L213.24,109.08 L214.89,108.29 L216.54,107.53 L218.19,106.80 L219.84,106.09 L221.48,105.41 L223.13,104.75 L224.78,104.11 L226.43,103.49 L228.08,102.88 L229.73,102.30 L231.38,101.74 L233.03,101.20 L234.67,100.69 L236.32,100.20 L237.97,99.73 L239.62,99.29 L241.27,98.86 L242.92,98.47 L244.57,98.09 L246.22,97.72 L247.87,97.38 L249.51,97.05 L251.16,96.74 L252.81,96.44 L254.46,96.15 L256.11,95.87 L257.76,95.61 L259.41,95.36 L261.05,95.12 L262.70,94.90 L264.35,94.69 L266.00,94.48 L267.65,94.27 L269.30,94.04 L270.95,93.81 L272.60,93.58 L274.25,93.34 L275.89,93.11 L277.54,92.86 L279.19,92.62 L280.84,92.37 L282.49,92.12 L284.14,91.87 L285.79,91.62 L287.44,91.37 L289.08,91.12 L290.73,90.87 L292.38,90.62 L294.03,90.38 L295.68,90.13 L297.33,89.89 L298.98,89.64 L300.62,89.40 L302.27,89.15 L303.92,88.90 L305.57,88.65 L307.22,88.40 L308.87,88.15 L310.52,87.90 L312.17,87.66 L313.81,87.41 L315.46,87.16 L317.11,86.92 L318.76,86.69 L320.41,86.46 L322.06,86.24 L323.71,86.01 L325.36,85.78 L327.00,85.55 L328.65,85.32 L330.30,85.10 L331.95,84.87 L333.60,84.64" stroke="#d8302a" stroke-dasharray="16.5 6.5"/>
<path d="M69.80,223.39 L71.45,222.97 L73.10,222.56 L74.75,222.13 L76.40,221.69 L78.04,221.24 L79.69,220.76 L81.34,220.26 L82.99,219.73 L84.64,219.16 L86.29,218.56 L87.94,217.91 L89.58,217.22 L91.23,216.48 L92.88,215.68 L94.53,214.82 L96.18,213.91 L97.83,212.94 L99.48,211.93 L101.13,210.90 L102.77,209.84 L104.42,208.81 L106.07,207.76 L107.72,206.70 L109.37,205.63 L111.02,204.54 L112.67,203.43 L114.32,202.29 L115.97,201.13 L117.61,199.95 L119.26,198.75 L120.91,197.52 L122.56,196.26 L124.21,194.99 L125.86,193.69 L127.51,192.38 L129.15,191.05 L130.80,189.70 L132.45,188.34 L134.10,186.96 L135.75,185.58 L137.40,184.20 L139.05,182.82 L140.70,181.44 L142.34,180.07 L143.99,178.72 L145.64,177.38 L147.29,176.06 L148.94,174.74 L150.59,173.43 L152.24,172.12 L153.89,170.80 L155.53,169.48 L157.18,168.08 L158.83,166.69 L160.48,165.31 L162.13,163.96 L163.78,162.63 L165.43,161.32 L167.08,160.01 L168.72,158.71 L170.37,157.41 L172.02,156.11 L173.67,154.81 L175.32,153.53 L176.97,152.26 L178.62,151.02 L180.27,149.79 L181.91,148.59 L183.56,147.41 L185.21,146.26 L186.86,145.12 L188.51,144.00 L190.16,142.91 L191.81,141.85 L193.46,140.81 L195.10,139.80 L196.75,138.81 L198.40,137.85 L200.05,136.92 L201.70,136.01 L203.35,135.13 L205.00,134.29 L206.65,133.47 L208.29,132.69 L209.94,131.94 L211.59,131.22 L213.24,130.54 L214.89,129.88 L216.54,129.25 L218.19,128.64 L219.84,128.06 L221.48,127.50 L223.13,126.96 L224.78,126.43 L226.43,125.92 L228.08,125.42 L229.73,124.94 L231.38,124.48 L233.03,124.04 L234.67,123.61 L236.32,123.21 L237.97,122.82 L239.62,122.46 L241.27,122.11 L242.92,121.78 L244.57,121.47 L246.22,121.17 L247.87,120.89 L249.51,120.62 L251.16,120.36 L252.81,120.11 L254.46,119.87 L256.11,119.65 L257.76,119.43 L259.41,119.23 L261.05,119.03 L262.70,118.85 L264.35,118.67 L266.00,118.50 L267.65,118.33 L269.30,118.13 L270.95,117.93 L272.60,117.73 L274.25,117.53 L275.89,117.32 L277.54,117.11 L279.19,116.89 L280.84,116.68 L282.49,116.46 L284.14,116.24 L285.79,116.03 L287.44,115.81 L289.08,115.59 L290.73,115.38 L292.38,115.17 L294.03,114.95 L295.68,114.74 L297.33,114.53 L298.98,114.31 L300.62,114.10 L302.27,113.88 L303.92,113.67 L305.57,113.45 L307.22,113.23 L308.87,113.02 L310.52,112.80 L312.17,112.59 L313.81,112.37 L315.46,112.16 L317.11,111.94 L318.76,111.76 L320.41,111.57 L322.06,111.38 L323.71,111.19 L325.36,111.00 L327.00,110.82 L328.65,110.63 L330.30,110.44 L331.95,110.25 L333.60,110.07" stroke="#222222"/>
<path d="M69.80,224.21 L71.45,223.84 L73.10,223.47 L74.75,223.10 L76.40,222.71 L78.04,222.31 L79.69,221.89 L81.34,221.44 L82.99,220.97 L84.64,220.47 L86.29,219.94 L87.94,219.37 L89.58,218.76 L91.23,218.10 L92.88,217.40 L94.53,216.64 L96.18,215.83 L97.83,214.98 L99.48,214.09 L101.13,213.17 L102.77,212.24 L104.42,211.33 L106.07,210.41 L107.72,209.49 L109.37,208.55 L111.02,207.59 L112.67,206.62 L114.32,205.63 L115.97,204.61 L117.61,203.58 L119.26,202.53 L120.91,201.45 L122.56,200.36 L124.21,199.25 L125.86,198.12 L127.51,196.97 L129.15,195.81 L130.80,194.64 L132.45,193.46 L134.10,192.26 L135.75,191.06 L137.40,189.87 L139.05,188.67 L140.70,187.48 L142.34,186.30 L143.99,185.13 L145.64,183.97 L147.29,182.83 L148.94,181.70 L150.59,180.57 L152.24,179.45 L153.89,178.31 L155.53,177.18 L157.18,175.96 L158.83,174.74 L160.48,173.54 L162.13,172.36 L163.78,171.20 L165.43,170.05 L167.08,168.91 L168.72,167.77 L170.37,166.63 L172.02,165.50 L173.67,164.37 L175.32,163.25 L176.97,162.14 L178.62,161.05 L180.27,159.98 L181.91,158.93 L183.56,157.90 L185.21,156.89 L186.86,155.89 L188.51,154.92 L190.16,153.96 L191.81,153.03 L193.46,152.12 L195.10,151.23 L196.75,150.37 L198.40,149.52 L200.05,148.71 L201.70,147.91 L203.35,147.14 L205.00,146.40 L206.65,145.68 L208.29,144.99 L209.94,144.33 L211.59,143.71 L213.24,143.11 L214.89,142.53 L216.54,141.98 L218.19,141.44 L219.84,140.93 L221.48,140.44 L223.13,139.97 L224.78,139.51 L226.43,139.06 L228.08,138.62 L229.73,138.20 L231.38,137.80 L233.03,137.41 L234.67,137.04 L236.32,136.69 L237.97,136.35 L239.62,136.03 L241.27,135.73 L242.92,135.44 L244.57,135.17 L246.22,134.91 L247.87,134.66 L249.51,134.43 L251.16,134.20 L252.81,133.98 L254.46,133.77 L256.11,133.58 L257.76,133.39 L259.41,133.21 L261.05,133.04 L262.70,132.88 L264.35,132.72 L266.00,132.57 L267.65,132.42 L269.30,132.24 L270.95,132.06 L272.60,131.88 L274.25,131.69 L275.89,131.51 L277.54,131.32 L279.19,131.12 L280.84,130.93 L282.49,130.73 L284.14,130.53 L285.79,130.34 L287.44,130.14 L289.08,129.95 L290.73,129.75 L292.38,129.56 L294.03,129.37 L295.68,129.17 L297.33,128.98 L298.98,128.79 L300.62,128.59 L302.27,128.40 L303.92,128.20 L305.57,128.00 L307.22,127.81 L308.87,127.61 L310.52,127.42 L312.17,127.22 L313.81,127.03 L315.46,126.83 L317.11,126.64 L318.76,126.48 L320.41,126.31 L322.06,126.15 L323.71,125.98 L325.36,125.82 L327.00,125.65 L328.65,125.49 L330.30,125.32 L331.95,125.16 L333.60,124.99" stroke="#25a552"/>
<path d="M69.80,222.59 L71.45,222.13 L73.10,221.66 L74.75,221.19 L76.40,220.70 L78.04,220.19 L79.69,219.66 L81.34,219.10 L82.99,218.51 L84.64,217.88 L86.29,217.21 L87.94,216.49 L89.58,215.72 L91.23,214.89 L92.88,214.01 L94.53,213.05 L96.18,212.03 L97.83,210.96 L99.48,209.84 L101.13,208.68 L102.77,207.51 L104.42,206.35 L106.07,205.18 L107.72,203.99 L109.37,202.79 L111.02,201.57 L112.67,200.32 L114.32,199.04 L115.97,197.74 L117.61,196.41 L119.26,195.05 L120.91,193.67 L122.56,192.26 L124.21,190.82 L125.86,189.36 L127.51,187.88 L129.15,186.38 L130.80,184.86 L132.45,183.32 L134.10,181.77 L135.75,180.21 L137.40,178.65 L139.05,177.08 L140.70,175.52 L142.34,173.97 L143.99,172.43 L145.64,170.91 L147.29,169.40 L148.94,167.90 L150.59,166.41 L152.24,164.91 L153.89,163.41 L155.53,161.90 L157.18,160.32 L158.83,158.76 L160.48,157.21 L162.13,155.69 L163.78,154.20 L165.43,152.72 L167.08,151.25 L168.72,149.79 L170.37,148.32 L172.02,146.86 L173.67,145.41 L175.32,143.96 L176.97,142.54 L178.62,141.14 L180.27,139.76 L181.91,138.41 L183.56,137.08 L185.21,135.79 L186.86,134.51 L188.51,133.26 L190.16,132.04 L191.81,130.84 L193.46,129.68 L195.10,128.54 L196.75,127.44 L198.40,126.36 L200.05,125.31 L201.70,124.30 L203.35,123.32 L205.00,122.37 L206.65,121.45 L208.29,120.58 L209.94,119.74 L211.59,118.94 L213.24,118.17 L214.89,117.44 L216.54,116.73 L218.19,116.05 L219.84,115.40 L221.48,114.77 L223.13,114.16 L224.78,113.57 L226.43,112.99 L228.08,112.43 L229.73,111.89 L231.38,111.37 L233.03,110.88 L234.67,110.40 L236.32,109.95 L237.97,109.51 L239.62,109.10 L241.27,108.72 L242.92,108.35 L244.57,107.99 L246.22,107.66 L247.87,107.34 L249.51,107.04 L251.16,106.75 L252.81,106.47 L254.46,106.20 L256.11,105.94 L257.76,105.70 L259.41,105.47 L261.05,105.26 L262.70,105.05 L264.35,104.85 L266.00,104.66 L267.65,104.47 L269.30,104.25 L270.95,104.03 L272.60,103.81 L274.25,103.59 L275.89,103.36 L277.54,103.13 L279.19,102.90 L280.84,102.67 L282.49,102.43 L284.14,102.19 L285.79,101.96 L287.44,101.72 L289.08,101.49 L290.73,101.25 L292.38,101.02 L294.03,100.79 L295.68,100.55 L297.33,100.32 L298.98,100.09 L300.62,99.86 L302.27,99.62 L303.92,99.39 L305.57,99.15 L307.22,98.91 L308.87,98.68 L310.52,98.45 L312.17,98.21 L313.81,97.98 L315.46,97.75 L317.11,97.51 L318.76,97.30 L320.41,97.09 L322.06,96.88 L323.71,96.67 L325.36,96.46 L327.00,96.25 L328.65,96.04 L330.30,95.83 L331.95,95.62 L333.60,95.41" stroke="#d8302a"/>
<path d="M69.80,223.97 L71.45,223.59 L73.10,223.21 L74.75,222.82 L76.40,222.41 L78.04,222.00 L79.69,221.56 L81.34,221.10 L82.99,220.61 L84.64,220.09 L86.29,219.54 L87.94,218.95 L89.58,218.31 L91.23,217.63 L92.88,216.90 L94.53,216.11 L96.18,215.27 L97.83,214.39 L99.48,213.46 L101.13,212.51 L102.77,211.54 L104.42,210.60 L106.07,209.64 L107.72,208.68 L109.37,207.70 L111.02,206.71 L112.67,205.69 L114.32,204.66 L115.97,203.61 L117.61,202.53 L119.26,201.43 L120.91,200.31 L122.56,199.17 L124.21,198.01 L125.86,196.84 L127.51,195.64 L129.15,194.43 L130.80,193.21 L132.45,191.98 L134.10,190.73 L135.75,189.48 L137.40,188.23 L139.05,186.98 L140.70,185.74 L142.34,184.50 L143.99,183.28 L145.64,182.07 L147.29,180.88 L148.94,179.69 L150.59,178.51 L152.24,177.33 L153.89,176.14 L155.53,174.96 L157.18,173.68 L158.83,172.41 L160.48,171.16 L162.13,169.94 L163.78,168.73 L165.43,167.53 L167.08,166.34 L168.72,165.16 L170.37,163.97 L172.02,162.79 L173.67,161.61 L175.32,160.44 L176.97,159.29 L178.62,158.15 L180.27,157.04 L181.91,155.94 L183.56,154.87 L185.21,153.82 L186.86,152.78 L188.51,151.76 L190.16,150.77 L191.81,149.80 L193.46,148.85 L195.10,147.93 L196.75,147.03 L198.40,146.15 L200.05,145.30 L201.70,144.48 L203.35,143.67 L205.00,142.90 L206.65,142.15 L208.29,141.44 L209.94,140.75 L211.59,140.10 L213.24,139.48 L214.89,138.88 L216.54,138.30 L218.19,137.74 L219.84,137.22 L221.48,136.71 L223.13,136.21 L224.78,135.73 L226.43,135.26 L228.08,134.81 L229.73,134.37 L231.38,133.95 L233.03,133.55 L234.67,133.16 L236.32,132.80 L237.97,132.45 L239.62,132.11 L241.27,131.80 L242.92,131.50 L244.57,131.21 L246.22,130.94 L247.87,130.69 L249.51,130.44 L251.16,130.20 L252.81,129.98 L254.46,129.76 L256.11,129.55 L257.76,129.36 L259.41,129.17 L261.05,128.99 L262.70,128.83 L264.35,128.67 L266.00,128.51 L267.65,128.35 L269.30,128.17 L270.95,127.98 L272.60,127.79 L274.25,127.60 L275.89,127.41 L277.54,127.21 L279.19,127.01 L280.84,126.81 L282.49,126.61 L284.14,126.41 L285.79,126.20 L287.44,126.00 L289.08,125.80 L290.73,125.60 L292.38,125.40 L294.03,125.20 L295.68,125.00 L297.33,124.80 L298.98,124.61 L300.62,124.41 L302.27,124.20 L303.92,124.00 L305.57,123.80 L307.22,123.60 L308.87,123.39 L310.52,123.19 L312.17,122.99 L313.81,122.79 L315.46,122.59 L317.11,122.39 L318.76,122.22 L320.41,122.05 L322.06,121.88 L323.71,121.71 L325.36,121.54 L327.00,121.36 L328.65,121.19 L330.30,121.02 L331.95,120.85 L333.60,120.68" stroke="#222222"/>
<path d="M69.80,224.82 L71.45,224.48 L73.10,224.15 L74.75,223.81 L76.40,223.46 L78.04,223.10 L79.69,222.72 L81.34,222.32 L82.99,221.89 L84.64,221.44 L86.29,220.96 L87.94,220.44 L89.58,219.89 L91.23,219.30 L92.88,218.66 L94.53,217.98 L96.18,217.25 L97.83,216.48 L99.48,215.67 L101.13,214.84 L102.77,214.00 L104.42,213.19 L106.07,212.36 L107.72,211.53 L109.37,210.69 L111.02,209.84 L112.67,208.96 L114.32,208.08 L115.97,207.17 L117.61,206.24 L119.26,205.30 L120.91,204.34 L122.56,203.36 L124.21,202.37 L125.86,201.36 L127.51,200.34 L129.15,199.31 L130.80,198.26 L132.45,197.21 L134.10,196.15 L135.75,195.08 L137.40,194.02 L139.05,192.95 L140.70,191.90 L142.34,190.85 L143.99,189.81 L145.64,188.79 L147.29,187.78 L148.94,186.78 L150.59,185.79 L152.24,184.79 L153.89,183.80 L155.53,182.80 L157.18,181.70 L158.83,180.61 L160.48,179.54 L162.13,178.49 L163.78,177.45 L165.43,176.42 L167.08,175.40 L168.72,174.38 L170.37,173.36 L172.02,172.35 L173.67,171.33 L175.32,170.33 L176.97,169.34 L178.62,168.37 L180.27,167.41 L181.91,166.47 L183.56,165.55 L185.21,164.65 L186.86,163.75 L188.51,162.88 L190.16,162.02 L191.81,161.18 L193.46,160.37 L195.10,159.57 L196.75,158.80 L198.40,158.04 L200.05,157.31 L201.70,156.59 L203.35,155.90 L205.00,155.23 L206.65,154.59 L208.29,153.97 L209.94,153.38 L211.59,152.82 L213.24,152.28 L214.89,151.76 L216.54,151.26 L218.19,150.78 L219.84,150.33 L221.48,149.89 L223.13,149.46 L224.78,149.05 L226.43,148.65 L228.08,148.26 L229.73,147.88 L231.38,147.52 L233.03,147.17 L234.67,146.84 L236.32,146.53 L237.97,146.23 L239.62,145.94 L241.27,145.67 L242.92,145.41 L244.57,145.17 L246.22,144.93 L247.87,144.71 L249.51,144.50 L251.16,144.30 L252.81,144.10 L254.46,143.92 L256.11,143.74 L257.76,143.57 L259.41,143.41 L261.05,143.26 L262.70,143.11 L264.35,142.98 L266.00,142.84 L267.65,142.71 L269.30,142.54 L270.95,142.38 L272.60,142.21 L274.25,142.04 L275.89,141.86 L277.54,141.69 L279.19,141.51 L280.84,141.33 L282.49,141.15 L284.14,140.97 L285.79,140.79 L287.44,140.61 L289.08,140.43 L290.73,140.25 L292.38,140.07 L294.03,139.89 L295.68,139.72 L297.33,139.54 L298.98,139.36 L300.62,139.18 L302.27,139.00 L303.92,138.82 L305.57,138.64 L307.22,138.46 L308.87,138.28 L310.52,138.10 L312.17,137.92 L313.81,137.74 L315.46,137.56 L317.11,137.38 L318.76,137.24 L320.41,137.09 L322.06,136.94 L323.71,136.79 L325.36,136.64 L327.00,136.50 L328.65,136.35 L330.30,136.20 L331.95,136.05 L333.60,135.91" stroke="#25a552"/>
<path d="M69.80,223.18 L71.45,222.76 L73.10,222.33 L74.75,221.89 L76.40,221.44 L78.04,220.97 L79.69,220.48 L81.34,219.96 L82.99,219.42 L84.64,218.83 L86.29,218.21 L87.94,217.55 L89.58,216.84 L91.23,216.07 L92.88,215.25 L94.53,214.37 L96.18,213.43 L97.83,212.43 L99.48,211.40 L101.13,210.33 L102.77,209.24 L104.42,208.18 L106.07,207.10 L107.72,206.01 L109.37,204.90 L111.02,203.78 L112.67,202.63 L114.32,201.46 L115.97,200.27 L117.61,199.05 L119.26,197.80 L120.91,196.53 L122.56,195.24 L124.21,193.92 L125.86,192.58 L127.51,191.23 L129.15,189.85 L130.80,188.46 L132.45,187.05 L134.10,185.64 L135.75,184.21 L137.40,182.78 L139.05,181.35 L140.70,179.93 L142.34,178.51 L143.99,177.11 L145.64,175.73 L147.29,174.36 L148.94,172.99 L150.59,171.64 L152.24,170.28 L153.89,168.91 L155.53,167.55 L157.18,166.10 L158.83,164.66 L160.48,163.24 L162.13,161.85 L163.78,160.48 L165.43,159.12 L167.08,157.78 L168.72,156.43 L170.37,155.09 L172.02,153.74 L173.67,152.41 L175.32,151.09 L176.97,149.78 L178.62,148.49 L180.27,147.23 L181.91,145.99 L183.56,144.77 L185.21,143.58 L186.86,142.41 L188.51,141.26 L190.16,140.13 L191.81,139.04 L193.46,137.97 L195.10,136.92 L196.75,135.91 L198.40,134.92 L200.05,133.95 L201.70,133.02 L203.35,132.12 L205.00,131.24 L206.65,130.40 L208.29,129.59 L209.94,128.82 L211.59,128.08 L213.24,127.38 L214.89,126.70 L216.54,126.05 L218.19,125.43 L219.84,124.83 L221.48,124.25 L223.13,123.69 L224.78,123.14 L226.43,122.62 L228.08,122.10 L229.73,121.61 L231.38,121.13 L233.03,120.67 L234.67,120.24 L236.32,119.82 L237.97,119.42 L239.62,119.05 L241.27,118.69 L242.92,118.35 L244.57,118.03 L246.22,117.72 L247.87,117.43 L249.51,117.15 L251.16,116.88 L252.81,116.63 L254.46,116.38 L256.11,116.15 L257.76,115.92 L259.41,115.71 L261.05,115.51 L262.70,115.32 L264.35,115.14 L266.00,114.96 L267.65,114.79 L269.30,114.59 L270.95,114.38 L272.60,114.17 L274.25,113.97 L275.89,113.75 L277.54,113.54 L279.19,113.32 L280.84,113.10 L282.49,112.88 L284.14,112.65 L285.79,112.43 L287.44,112.21 L289.08,111.99 L290.73,111.77 L292.38,111.55 L294.03,111.33 L295.68,111.12 L297.33,110.90 L298.98,110.68 L300.62,110.46 L302.27,110.24 L303.92,110.02 L305.57,109.79 L307.22,109.57 L308.87,109.35 L310.52,109.13 L312.17,108.91 L313.81,108.69 L315.46,108.48 L317.11,108.26 L318.76,108.06 L320.41,107.87 L322.06,107.68 L323.71,107.48 L325.36,107.29 L327.00,107.09 L328.65,106.90 L330.30,106.70 L331.95,106.51 L333.60,106.32" stroke="#d8302a"/>
</g>
<path d="M100.40,21.45 V25.60 M100.40,33.50 V41.40 M100.40,49.30 V57.20 M100.40,65.10 V73.00 M100.40,80.90 V88.80 M100.40,96.70 V104.60 M100.40,112.50 V120.40 M100.40,128.30 V136.20 M100.40,144.10 V152.00 M100.40,159.90 V167.80 M100.40,175.70 V183.60 M100.40,191.50 V199.40 M100.40,207.30 V215.20 M100.40,223.10 V230.45 M316.50,21.45 V25.60 M316.50,33.50 V41.40 M316.50,49.30 V57.20 M316.50,65.10 V73.00 M316.50,80.90 V88.80 M316.50,96.70 V104.60 M316.50,112.50 V120.40 M316.50,128.30 V136.20 M316.50,144.10 V152.00 M316.50,159.90 V167.80 M316.50,175.70 V183.60 M316.50,191.50 V199.40 M316.50,207.30 V215.20 M316.50,223.10 V230.45" stroke="#333" stroke-width="0.7" fill="none"/>
<path d="M69.80,230.45 h5.3 M333.60,230.45 h-5.3 M69.80,227.46 h3.0 M333.60,227.46 h-3.0 M69.80,224.48 h3.0 M333.60,224.48 h-3.0 M69.80,221.49 h3.0 M333.60,221.49 h-3.0 M69.80,218.51 h3.0 M333.60,218.51 h-3.0 M69.80,215.52 h3.0 M333.60,215.52 h-3.0 M69.80,212.54 h3.0 M333.60,212.54 h-3.0 M69.80,209.55 h3.0 M333.60,209.55 h-3.0 M69.80,206.56 h3.0 M333.60,206.56 h-3.0 M69.80,203.58 h3.0 M333.60,203.58 h-3.0 M69.80,200.59 h5.3 M333.60,200.59 h-5.3 M69.80,197.61 h3.0 M333.60,197.61 h-3.0 M69.80,194.62 h3.0 M333.60,194.62 h-3.0 M69.80,191.64 h3.0 M333.60,191.64 h-3.0 M69.80,188.65 h3.0 M333.60,188.65 h-3.0 M69.80,185.66 h3.0 M333.60,185.66 h-3.0 M69.80,182.68 h3.0 M333.60,182.68 h-3.0 M69.80,179.69 h3.0 M333.60,179.69 h-3.0 M69.80,176.71 h3.0 M333.60,176.71 h-3.0 M69.80,173.72 h3.0 M333.60,173.72 h-3.0 M69.80,170.74 h5.3 M333.60,170.74 h-5.3 M69.80,167.75 h3.0 M333.60,167.75 h-3.0 M69.80,164.76 h3.0 M333.60,164.76 h-3.0 M69.80,161.78 h3.0 M333.60,161.78 h-3.0 M69.80,158.79 h3.0 M333.60,158.79 h-3.0 M69.80,155.81 h3.0 M333.60,155.81 h-3.0 M69.80,152.82 h3.0 M333.60,152.82 h-3.0 M69.80,149.84 h3.0 M333.60,149.84 h-3.0 M69.80,146.85 h3.0 M333.60,146.85 h-3.0 M69.80,143.86 h3.0 M333.60,143.86 h-3.0 M69.80,140.88 h5.3 M333.60,140.88 h-5.3 M69.80,137.89 h3.0 M333.60,137.89 h-3.0 M69.80,134.91 h3.0 M333.60,134.91 h-3.0 M69.80,131.92 h3.0 M333.60,131.92 h-3.0 M69.80,128.94 h3.0 M333.60,128.94 h-3.0 M69.80,125.95 h3.0 M333.60,125.95 h-3.0 M69.80,122.96 h3.0 M333.60,122.96 h-3.0 M69.80,119.98 h3.0 M333.60,119.98 h-3.0 M69.80,116.99 h3.0 M333.60,116.99 h-3.0 M69.80,114.01 h3.0 M333.60,114.01 h-3.0 M69.80,111.02 h5.3 M333.60,111.02 h-5.3 M69.80,108.04 h3.0 M333.60,108.04 h-3.0 M69.80,105.05 h3.0 M333.60,105.05 h-3.0 M69.80,102.06 h3.0 M333.60,102.06 h-3.0 M69.80,99.08 h3.0 M333.60,99.08 h-3.0 M69.80,96.09 h3.0 M333.60,96.09 h-3.0 M69.80,93.11 h3.0 M333.60,93.11 h-3.0 M69.80,90.12 h3.0 M333.60,90.12 h-3.0 M69.80,87.14 h3.0 M333.60,87.14 h-3.0 M69.80,84.15 h3.0 M333.60,84.15 h-3.0 M69.80,81.16 h5.3 M333.60,81.16 h-5.3 M69.80,78.18 h3.0 M333.60,78.18 h-3.0 M69.80,75.19 h3.0 M333.60,75.19 h-3.0 M69.80,72.21 h3.0 M333.60,72.21 h-3.0 M69.80,69.22 h3.0 M333.60,69.22 h-3.0 M69.80,66.24 h3.0 M333.60,66.24 h-3.0 M69.80,63.25 h3.0 M333.60,63.25 h-3.0 M69.80,60.26 h3.0 M333.60,60.26 h-3.0 M69.80,57.28 h3.0 M333.60,57.28 h-3.0 M69.80,54.29 h3.0 M333.60,54.29 h-3.0 M69.80,51.31 h5.3 M333.60,51.31 h-5.3 M69.80,48.32 h3.0 M333.60,48.32 h-3.0 M69.80,45.34 h3.0 M333.60,45.34 h-3.0 M69.80,42.35 h3.0 M333.60,42.35 h-3.0 M69.80,39.36 h3.0 M333.60,39.36 h-3.0 M69.80,36.38 h3.0 M333.60,36.38 h-3.0 M69.80,33.39 h3.0 M333.60,33.39 h-3.0 M69.80,30.41 h3.0 M333.60,30.41 h-3.0 M69.80,27.42 h3.0 M333.60,27.42 h-3.0 M69.80,24.44 h3.0 M333.60,24.44 h-3.0 M69.80,21.45 h5.3 M333.60,21.45 h-5.3 M69.80,230.45 v-4.5 M69.80,21.45 v4.5 M86.29,230.45 v-2.5 M86.29,21.45 v2.5 M102.78,230.45 v-2.5 M102.78,21.45 v2.5 M119.26,230.45 v-2.5 M119.26,21.45 v2.5 M135.75,230.45 v-4.5 M135.75,21.45 v4.5 M152.24,230.45 v-2.5 M152.24,21.45 v2.5 M168.73,230.45 v-2.5 M168.73,21.45 v2.5 M185.21,230.45 v-2.5 M185.21,21.45 v2.5 M201.70,230.45 v-4.5 M201.70,21.45 v4.5 M218.19,230.45 v-2.5 M218.19,21.45 v2.5 M234.68,230.45 v-2.5 M234.68,21.45 v2.5 M251.16,230.45 v-2.5 M251.16,21.45 v2.5 M267.65,230.45 v-4.5 M267.65,21.45 v4.5 M284.14,230.45 v-2.5 M284.14,21.45 v2.5 M300.62,230.45 v-2.5 M300.62,21.45 v2.5 M317.11,230.45 v-2.5 M317.11,21.45 v2.5 M333.60,230.45 v-4.5 M333.60,21.45 v4.5" stroke="#222" stroke-width="0.8" fill="none"/>
<rect x="69.8" y="21.45" width="263.80" height="209.00" fill="none" stroke="#222" stroke-width="0.9"/>
<text x="66.6" y="230.95" text-anchor="end">0</text><text x="66.6" y="204.79" text-anchor="end">10</text><text x="66.6" y="174.94" text-anchor="end">20</text><text x="66.6" y="145.08" text-anchor="end">30</text><text x="66.6" y="115.22" text-anchor="end">40</text><text x="66.6" y="85.36" text-anchor="end">50</text><text x="66.6" y="55.51" text-anchor="end">60</text><text x="66.6" y="29.05" text-anchor="end">70</text>
<text x="70.20" y="247.7" text-anchor="middle">0.4</text><text x="136.15" y="247.7" text-anchor="middle">0.6</text><text x="202.10" y="247.7" text-anchor="middle">0.8</text><text x="268.05" y="247.7" text-anchor="middle">1.0</text><text x="334.00" y="247.7" text-anchor="middle">1.2</text>
<text x="201.8" y="261.3" text-anchor="middle">B-V</text>
<text transform="translate(40.4,126.6) rotate(-90)" text-anchor="middle" style="font-size:12.7px">Prot (days)</text>
</svg>
</body></html>
